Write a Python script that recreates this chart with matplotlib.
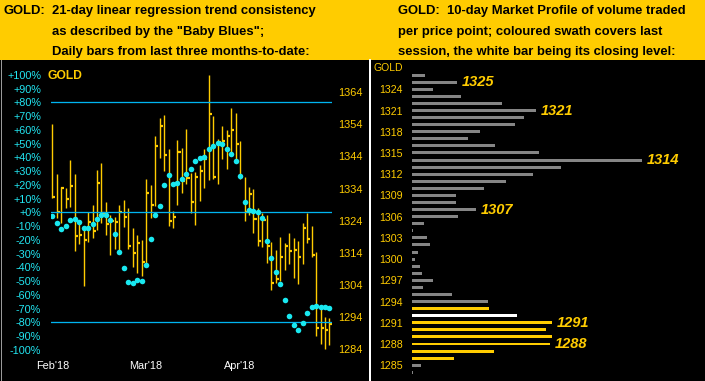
import matplotlib
matplotlib.use('Agg')
import matplotlib.pyplot as plt
from matplotlib.patches import Rectangle
from matplotlib.lines import Line2D
import numpy as np

plt.rcParams['font.family'] = ['Liberation Sans', 'DejaVu Sans']

W, H, DPI = 705, 381, 100

# ---------------- data: left chart (daily bars) ----------------
bar_high = [1354.1, 1338.5, 1334.4, 1334.1, 1342.9, 1338.5, 1323.4, 1322.1, 1326.8, 1328.9,
            1339.8, 1341.9, 1329.7, 1325.8, 1325.3, 1328.9, 1330.4, 1327.9, 1321.6, 1319.5,
            1318.0, 1337.0, 1335.1, 1350.4, 1355.9, 1356.9, 1346.2, 1327.0, 1349.1, 1346.5,
            1352.6, 1338.8, 1339.3, 1341.4, 1346.2, 1369.4, 1356.6, 1349.3, 1353.5, 1352.3,
            1359.0, 1357.4, 1348.8, 1337.7, 1334.6, 1333.9, 1327.9, 1326.3, 1325.8, 1317.3,
            1314.9, 1318.8, 1317.0, 1320.1, 1318.5, 1317.7, 1323.2, 1326.5, 1322.3, 1314.4,
            1297.0, 1293.9, 1293.6]
bar_low = [1331.0, 1324.7, 1323.2, 1327.9, 1328.4, 1314.7, 1316.7, 1303.7, 1317.5, 1318.5,
           1321.1, 1323.2, 1319.5, 1313.3, 1315.1, 1314.4, 1322.1, 1315.1, 1309.7, 1307.6,
           1306.8, 1309.9, 1324.7, 1328.6, 1343.6, 1339.6, 1322.3, 1321.8, 1328.9, 1332.7,
           1335.3, 1326.3, 1322.7, 1330.2, 1334.3, 1336.7, 1336.9, 1335.4, 1343.1, 1340.1,
           1344.7, 1342.6, 1336.9, 1323.9, 1325.8, 1320.3, 1316.2, 1315.9, 1310.9, 1302.4,
           1304.7, 1305.3, 1308.6, 1310.5, 1306.3, 1304.3, 1310.5, 1317.2, 1312.8, 1288.1,
           1285.6, 1284.0, 1285.3]
bar_close = [1331.5, 1326.8, 1334.1, 1330.7, 1334.9, 1319.3, 1319.6, 1318.0, 1323.7, 1320.9,
             1335.8, 1326.3, 1322.9, 1324.0, 1323.7, 1326.8, 1325.3, 1316.2, 1314.0, 1317.0,
             1311.0, 1332.7, 1328.9, 1347.3, 1353.5, 1344.5, 1323.9, 1325.3, 1345.5, 1336.4,
             1337.2, 1329.9, 1337.5, 1339.6, 1343.3, 1357.1, 1337.7, 1348.6, 1348.9, 1350.4,
             1352.3, 1347.9, 1337.7, 1326.8, 1332.4, 1324.6, 1317.8, 1324.2, 1316.2, 1304.7,
             1305.9, 1312.8, 1316.1, 1314.6, 1314.9, 1312.8, 1321.8, 1318.3, 1313.4, 1290.5,
             1290.5, 1290.0, 1291.8]
baby_blues = [-2.5, -7.5, -11.9, -9.7, -5.6, -4.9, -6.8, -11.2, -11.2, -8.5,
              -4.6, -1.7, -2.0, -5.6, -15.5, -28.6, -40.3, -50.5, -51.2, -49.2,
              -49.7, -38.1, -19.4, -1.7, 4.8, 19.9, 27.1, 20.6, 21.5, 24.5,
              27.9, 31.7, 37.6, 39.7, 40.2, 46.3, 48.5, 50.2, 49.9, 46.3,
              42.4, 37.6, 26.4, 7.7, 1.7, 0.9, 0.5, -3.9, -20.9, -33.0,
              -43.2, -51.9, -63.5, -75.4, -81.7, -85.4, -80.5, -73.2, -68.9, -68.1,
              -68.9, -68.9, -69.4]
month_idx = [0, 21, 42]
month_labels = ["Feb'18", "Mar'18", "Apr'18"]
pct_ticks = list(range(100, -101, -10))
pct_labels = [('+%d%%' % v) if v >= 0 else ('%d%%' % v) for v in pct_ticks]
price_ticks = [1364, 1354, 1344, 1334, 1324, 1314, 1304, 1294, 1284]
band_levels = [80, 0, -80]

# ---------------- data: right chart (market profile) ----------------
profile_levels = list(range(1326, 1283, -1))
profile_volume = [13, 45, 21, 49, 90, 124, 112, 103, 68, 56,
                  83, 127, 230, 149, 121, 94, 72, 44, 44, 64,
                  46, 12, 1, 15, 18, 6, 3, 8, 10, 21,
                  11, 40, 76, 77, 105, 140, 134, 140, 138, 82,
                  42, 9, 1]
profile_kind = ['g'] * 33 + ['y', 'w', 'y', 'y', 'y', 'y', 'y', 'y', 'g', 'g']
profile_callouts = [1325, 1321, 1314, 1307, 1291, 1288]
profile_ticks = [1324, 1321, 1318, 1315, 1312, 1309, 1306, 1303, 1300, 1297, 1294, 1291, 1288, 1285]

# ---------------- styles ----------------
GOLD = '#FFCC00'
CYAN_DOT = '#19E8F0'
CYAN_TXT = '#22E6F2'
CYAN_LINE = '#00B4F0'
GRAY = '#858585'
kind_color = {'g': GRAY, 'y': GOLD, 'w': '#FFFFFF'}
PX = 72.0 / DPI  # points per pixel

fig = plt.figure(figsize=(W / DPI, H / DPI), dpi=DPI, facecolor='black')


def rect(x0, y0, x1, y1):
    return [x0 / W, 1 - y1 / H, (x1 - x0) / W, (y1 - y0) / H]


def fx(x):
    return x / W


def fy(y):
    return 1 - y / H


# header
fig.add_artist(Rectangle((0, fy(60)), 1, 60 / H, transform=fig.transFigure,
                         facecolor=GOLD, edgecolor='none', zorder=0))
hdr = dict(fontsize=9.4, fontweight='bold', color='black', va='baseline', ha='left')
fig.text(fx(3.5), fy(14), 'GOLD:', **hdr)
for i, line in enumerate(['21-day linear regression trend consistency',
                          'as described by the "Baby Blues";',
                          'Daily bars from last three months-to-date:']):
    fig.text(fx(51.7), fy(14 + 20.5 * i), line, **hdr)
for i, line in enumerate(['GOLD:  10-day Market Profile of volume traded',
                          'per price point; coloured swath covers last',
                          'session, the white bar being its closing level:']):
    fig.text(fx(397.5), fy(14 + 20.5 * i), line, **hdr)

# frame lines
fig.add_artist(Line2D([fx(0.5), fx(0.5)], [0, fy(60)], transform=fig.transFigure,
                      color='#9A9A9A', lw=1 * PX))
fig.add_artist(Line2D([fx(369.5), fx(369.5)], [0, fy(60)], transform=fig.transFigure,
                      color='white', lw=2 * PX))

# ---------------- left chart ----------------
n = len(bar_high)
xs = np.arange(n)
ax = fig.add_axes(rect(50.5, 60, 331.5, 355))
ax.set_facecolor('black')
ax.set_xlim(-0.40, 62.46)
ax.set_ylim(1282.16, 1374.06)
ax.vlines(xs, bar_low, bar_high, color=GOLD, lw=1.4 * PX)
ax.hlines(bar_close, xs, xs + 0.7, color=GOLD, lw=2.2 * PX)

ax2 = ax.twinx()
ax2.set_ylim(-103.8, 110.76)
for lv in band_levels:
    ax2.axhline(lv, color=CYAN_LINE, lw=1.3 * PX)
ax2.plot(xs, baby_blues, ls='none', marker='o', ms=4.0, color=CYAN_DOT, mec=CYAN_DOT, mew=0)
ax2.yaxis.tick_left()
ax2.set_yticks(pct_ticks)
ax2.set_yticklabels(pct_labels)
ax2.tick_params(axis='y', length=0, pad=9.5 * PX, labelcolor=CYAN_TXT, labelsize=7.8)
for s in ax2.spines.values():
    s.set_visible(False)

ax.yaxis.tick_right()
ax.set_yticks(price_ticks)
ax.set_yticklabels([str(p) for p in price_ticks])
ax.tick_params(axis='y', length=0, pad=6.5 * PX, labelcolor=GOLD, labelsize=7.9)
ax.set_xticks(month_idx)
ax.set_xticklabels(month_labels)
ax.tick_params(axis='x', length=0, pad=4.2, labelcolor='white', labelsize=7.8)
for s in ax.spines.values():
    s.set_visible(False)

fig.text(fx(48), fy(76), 'GOLD', fontsize=8.7, fontweight='bold', color=GOLD,
         va='center', ha='left')

# ---------------- right chart ----------------
axr = fig.add_axes(rect(412, 60, 705, 381))
axr.set_facecolor('black')
axr.set_xlim(0, 293)
axr.set_ylim(1282.77, 1328.14)
axr.barh(profile_levels, profile_volume, height=0.42,
         color=[kind_color[k] for k in profile_kind], edgecolor='none')
axr.set_yticks(profile_ticks)
axr.set_yticklabels([str(p) for p in profile_ticks])
axr.tick_params(axis='y', length=0, pad=9.5 * PX, labelcolor=GOLD, labelsize=7.7)
axr.set_xticks([])
for s in axr.spines.values():
    s.set_visible(False)
vol_of = dict(zip(profile_levels, profile_volume))
for lv in profile_callouts:
    axr.annotate(str(lv), (vol_of[lv], lv), xytext=(5 * PX, 0), textcoords='offset points',
                 ha='left', va='center', fontsize=10.5, fontweight='bold',
                 fontstyle='italic', color=GOLD)
fig.text(fx(373), fy(68), 'GOLD', fontsize=7.5, color=GOLD, va='center', ha='left')

fig.savefig('out.png', dpi=DPI, facecolor='black')
